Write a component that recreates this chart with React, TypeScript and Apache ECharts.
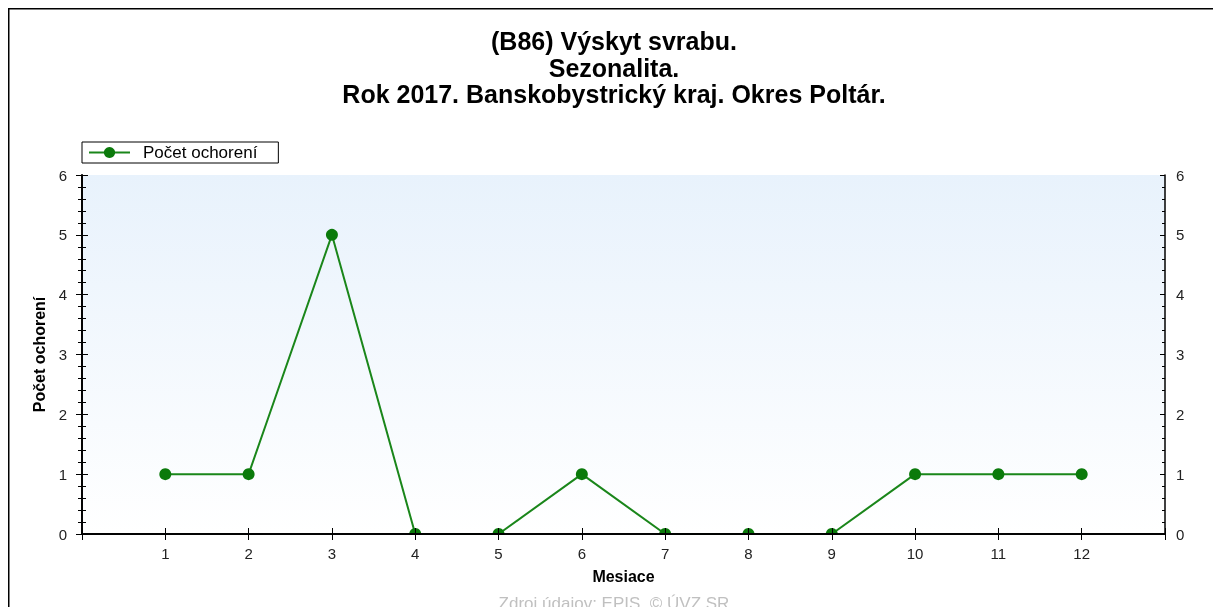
import React, { useEffect, useRef } from "react";
import * as echarts from "echarts";

const titleLines = [
  "(B86) Výskyt svrabu.",
  "Sezonalita.",
  "Rok 2017. Banskobystrický kraj. Okres Poltár.",
];
const seriesName = "Počet ochorení";
const months = [1, 2, 3, 4, 5, 6, 7, 8, 9, 10, 11, 12];
const cases = [1, 1, 5, 0, 0, 1, 0, 0, 0, 1, 1, 1];
const yTicks = [0, 1, 2, 3, 4, 5, 6];
const xAxisName = "Mesiace";
const yAxisName = "Počet ochorení";
const footer = "Zdroj údajov: EPIS, © ÚVZ SR";

const FONT = "Liberation Sans";

export default function App() {
  const ref = useRef<HTMLDivElement>(null);
  useEffect(() => {
    if (!ref.current) return;
    document.documentElement.style.overflow = "hidden";
    document.body.style.overflow = "hidden";
    const chart = echarts.init(ref.current, undefined, { renderer: "svg" });
    const gl = 74, gt = 167, gw = 1083, gh = 359;
    const labelFmt = (v: number) => (months.indexOf(v) >= 0 ? String(v) : "");
    const yFmt = (v: number) => (yTicks.indexOf(v) >= 0 ? String(v) : "");
    const axisLine = { show: true, lineStyle: { color: "#000", width: 1.5 } };
    const baseY = {
      type: "value",
      min: 0,
      max: 6,
      interval: 1,
      splitLine: { show: false },
      axisLine,
      z: 20,
    };
    const baseX = {
      type: "value",
      min: 0,
      max: 13,
      interval: 1,
      splitLine: { show: false },
      axisLine,
      z: 20,
    };
    const tickLabel = (fmt: any, margin: number) => ({
      show: true,
      formatter: fmt,
      margin,
      fontSize: 15,
      fontFamily: FONT,
      color: "#222",
    });
    const option: any = {
      animation: false,
      textStyle: { fontFamily: FONT },
      grid: {
        left: gl,
        top: gt,
        width: gw,
        height: gh,
        show: true,
        borderWidth: 0,
        backgroundColor: new echarts.graphic.LinearGradient(0, 0, 0, 1, [
          { offset: 0, color: "#e8f2fc" },
          { offset: 1, color: "#ffffff" },
        ]),
      },
      legend: {
        left: gl,
        top: 134,
        orient: "horizontal",
        borderColor: "#000",
        borderWidth: 1,
        padding: [2, 21, 2, 6],
        itemWidth: 41,
        itemHeight: 14,
        textStyle: {
          fontSize: 17,
          color: "#000",
          fontFamily: FONT,
          padding: [0, 0, 0, 8],
        },
        data: [seriesName],
      },
      xAxis: [
        {
          ...baseX,
          position: "bottom",
          axisTick: { show: true, length: 6, lineStyle: { color: "#000" } },
          axisLabel: tickLabel(labelFmt, 12),
          name: xAxisName,
          nameLocation: "middle",
          nameGap: 34.5,
          nameTextStyle: {
            fontWeight: "bold",
            fontSize: 16,
            color: "#000",
            fontFamily: FONT,
          },
        },
        {
          ...baseX,
          position: "bottom",
          axisTick: { show: true, inside: true, length: 6, lineStyle: { color: "#000" } },
          axisLabel: { show: false },
        },
        {
          ...baseX,
          position: "top",
          axisTick: { show: true, inside: true, length: 5, lineStyle: { color: "#000" } },
          axisLabel: { show: false },
        },
      ],
      yAxis: [
        {
          ...baseY,
          position: "left",
          axisTick: { show: true, length: 6, lineStyle: { color: "#000" } },
          minorTick: { show: true, splitNumber: 5, length: 4, lineStyle: { color: "#000" } },
          axisLabel: tickLabel(yFmt, 15),
          name: yAxisName,
          nameLocation: "middle",
          nameGap: 31,
          nameTextStyle: {
            fontWeight: "bold",
            fontSize: 16,
            color: "#000",
            fontFamily: FONT,
          },
        },
        {
          ...baseY,
          position: "left",
          axisTick: { show: true, inside: true, length: 5, lineStyle: { color: "#000" } },
          minorTick: { show: true, splitNumber: 5, length: 3, lineStyle: { color: "#000" } },
          axisLabel: { show: false },
        },
        {
          ...baseY,
          position: "right",
          axisTick: { show: true, length: 6, lineStyle: { color: "#000" } },
          minorTick: { show: true, splitNumber: 5, length: 4, lineStyle: { color: "#000" } },
          axisLabel: tickLabel(yFmt, 11),
        },
        {
          ...baseY,
          position: "right",
          axisTick: { show: true, inside: true, length: 5, lineStyle: { color: "#000" } },
          minorTick: { show: true, splitNumber: 5, length: 3, lineStyle: { color: "#000" } },
          axisLabel: { show: false },
        },
      ],
      series: [
        {
          name: seriesName,
          type: "line",
          xAxisIndex: 0,
          yAxisIndex: 0,
          data: months.map((m, i) => [m, cases[i]]),
          symbol: "circle",
          symbolSize: 12,
          lineStyle: { color: "#1a861a", width: 2 },
          itemStyle: { color: "#0b7a0b" },
          z: 2,
        },
      ],
      graphic: [
        {
          type: "rect",
          z: 10,
          silent: true,
          shape: { x: gl + 1, y: gt + gh + 1, width: gw - 2, height: 8 },
          style: { fill: "#ffffff" },
        },
        {
          type: "line",
          z: 30,
          silent: true,
          shape: { x1: 0, y1: 0.75, x2: 1300, y2: 0.75 },
          style: { stroke: "#000", lineWidth: 1.5 },
        },
        {
          type: "line",
          z: 30,
          silent: true,
          shape: { x1: 0.75, y1: 0, x2: 0.75, y2: 800 },
          style: { stroke: "#000", lineWidth: 1.5 },
        },
        {
          type: "text",
          z: 30,
          x: 606,
          y: 20,
          style: {
            text: titleLines.join("\n"),
            textAlign: "center",
            textVerticalAlign: "top",
            fontSize: 25,
            lineHeight: 26.5,
            fontWeight: "bold",
            fontFamily: FONT,
            fill: "#000",
          },
        },
        {
          type: "text",
          z: 30,
          x: 606,
          y: 587,
          style: {
            text: footer,
            textAlign: "center",
            textVerticalAlign: "top",
            fontSize: 17,
            fontFamily: FONT,
            fill: "#c0c0c0",
          },
        },
      ],
    };
    chart.setOption(option);
    return () => chart.dispose();
  }, []);
  return (
    <div style={{ position: "fixed", left: 8, top: 8, width: 1205, height: 599, overflow: "hidden" }}>
      <div ref={ref} style={{ width: 1205, height: 599 }} />
    </div>
  );
}
